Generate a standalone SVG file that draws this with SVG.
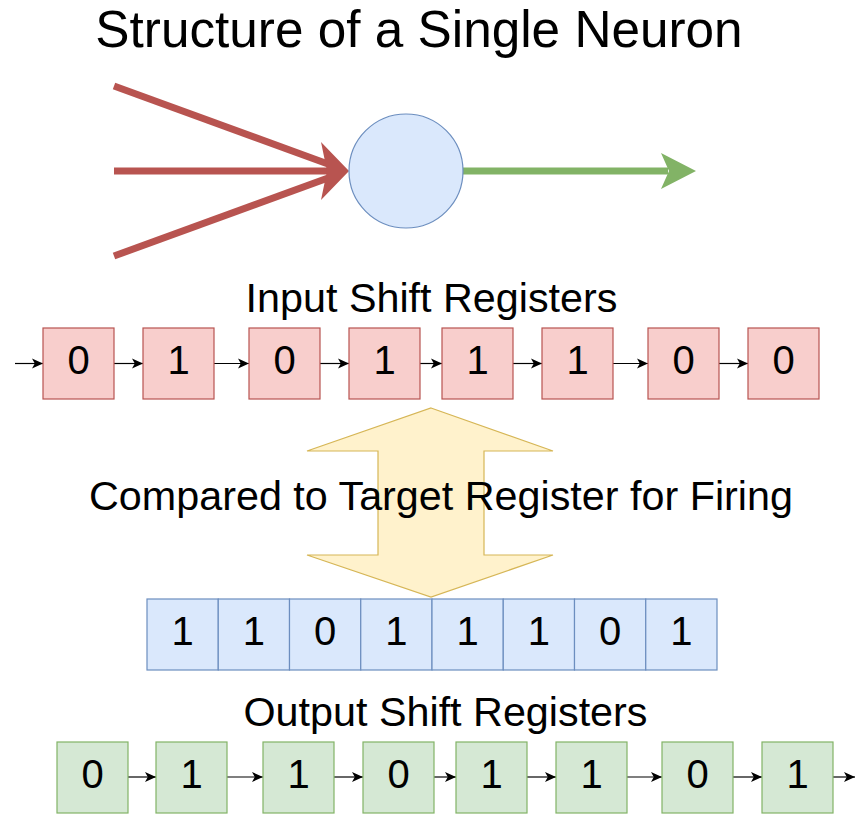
<svg xmlns="http://www.w3.org/2000/svg" width="868" height="828" viewBox="0 0 868 828">
<style>
text{font-family:"Liberation Sans",Arial,Helvetica,sans-serif;fill:#000;}
.lbl{font-size:41.3px;text-anchor:middle;}
.dig{font-size:40px;text-anchor:middle;}
.red{fill:#f8cecc;stroke:#b85450;stroke-width:1.2;}
.grn{fill:#d5e8d4;stroke:#82b366;stroke-width:1.2;}
.blu{fill:#dae8fc;stroke:#6c8ebf;stroke-width:1.2;}
.conn{stroke:#000;stroke-width:1.2;fill:none;marker-end:url(#ah);}
</style>
<defs>
<marker id="ah" markerWidth="11" markerHeight="11" viewBox="0 0 11 11" refX="11" refY="5.5" orient="auto" markerUnits="userSpaceOnUse">
<path d="M11,5.5 L0,0.5 L2.8,5.5 L0,10.5 Z" fill="#000"/>
</marker>
</defs>
<rect width="868" height="828" fill="#fff"/>
<text x="419" y="47" style="font-size:51.3px;text-anchor:middle">Structure of a Single Neuron</text>

<g id="inputs">
<g stroke="#b85450" stroke-width="7" fill="none">
<line x1="114" y1="86" x2="328" y2="164"/>
<line x1="114" y1="171" x2="328" y2="171"/>
<line x1="114" y1="256" x2="328" y2="178"/>
</g>
<polygon points="349,171 321,142 327,171 321,200" fill="#b85450"/>
</g>
<g id="output-axon">
<line x1="463" y1="171" x2="668" y2="171" stroke="#82b366" stroke-width="7"/>
<polygon points="696,171 661,153 669,171 661,189" fill="#82b366"/>
</g>
<g id="neuron">
<ellipse cx="406" cy="171" rx="57" ry="57" fill="#dae8fc" stroke="#6c8ebf" stroke-width="1.2"/>
</g>

<text class="lbl" x="431.5" y="312">Input Shift Registers</text>

<g id="connectors">
<line class="conn" x1="15" y1="363.5" x2="43" y2="363.5"/>
<line class="conn" x1="114" y1="363.5" x2="143" y2="363.5"/>
<line class="conn" x1="214" y1="363.5" x2="249" y2="363.5"/>
<line class="conn" x1="320" y1="363.5" x2="349" y2="363.5"/>
<line class="conn" x1="420" y1="363.5" x2="442" y2="363.5"/>
<line class="conn" x1="513" y1="363.5" x2="542" y2="363.5"/>
<line class="conn" x1="613" y1="363.5" x2="648" y2="363.5"/>
<line class="conn" x1="719" y1="363.5" x2="748" y2="363.5"/>
<line class="conn" x1="128" y1="777" x2="156" y2="777"/>
<line class="conn" x1="227" y1="777" x2="263" y2="777"/>
<line class="conn" x1="334" y1="777" x2="363" y2="777"/>
<line class="conn" x1="434" y1="777" x2="456" y2="777"/>
<line class="conn" x1="527" y1="777" x2="556" y2="777"/>
<line class="conn" x1="627" y1="777" x2="662" y2="777"/>
<line class="conn" x1="733" y1="777" x2="762" y2="777"/>
<line class="conn" x1="833" y1="777" x2="855" y2="777"/>
</g>

<g id="in0"><rect class="red" x="43" y="328" width="71" height="71"/><text class="dig" x="78.5" y="373.5">0</text></g>
<g id="in1"><rect class="red" x="143" y="328" width="71" height="71"/><text class="dig" x="178.5" y="373.5">1</text></g>
<g id="in2"><rect class="red" x="249" y="328" width="71" height="71"/><text class="dig" x="284.5" y="373.5">0</text></g>
<g id="in3"><rect class="red" x="349" y="328" width="71" height="71"/><text class="dig" x="384.5" y="373.5">1</text></g>
<g id="in4"><rect class="red" x="442" y="328" width="71" height="71"/><text class="dig" x="477.5" y="373.5">1</text></g>
<g id="in5"><rect class="red" x="542" y="328" width="71" height="71"/><text class="dig" x="577.5" y="373.5">1</text></g>
<g id="in6"><rect class="red" x="648" y="328" width="71" height="71"/><text class="dig" x="683.5" y="373.5">0</text></g>
<g id="in7"><rect class="red" x="748" y="328" width="71" height="71"/><text class="dig" x="783.5" y="373.5">0</text></g>

<g id="compare-arrow">
<polygon points="431,408 553,451 484,451 484,555 553,555 431,597 307,555 378,555 378,451 307,451" fill="#fff2cc" stroke="#d6b656" stroke-width="1.2"/>
</g>
<text class="lbl" x="441" y="510">Compared to Target Register for Firing</text>

<g id="target">
<g id="t0"><rect class="blu" x="147" y="599" width="71.25" height="71"/><text class="dig" x="182.6" y="645">1</text></g>
<g id="t1"><rect class="blu" x="218.25" y="599" width="71.25" height="71"/><text class="dig" x="253.9" y="645">1</text></g>
<g id="t2"><rect class="blu" x="289.5" y="599" width="71.25" height="71"/><text class="dig" x="325.1" y="645">0</text></g>
<g id="t3"><rect class="blu" x="360.75" y="599" width="71.25" height="71"/><text class="dig" x="396.4" y="645">1</text></g>
<g id="t4"><rect class="blu" x="432" y="599" width="71.25" height="71"/><text class="dig" x="467.6" y="645">1</text></g>
<g id="t5"><rect class="blu" x="503.25" y="599" width="71.25" height="71"/><text class="dig" x="538.9" y="645">1</text></g>
<g id="t6"><rect class="blu" x="574.5" y="599" width="71.25" height="71"/><text class="dig" x="610.1" y="645">0</text></g>
<g id="t7"><rect class="blu" x="645.75" y="599" width="71.25" height="71"/><text class="dig" x="681.4" y="645">1</text></g>
</g>

<text class="lbl" x="445.5" y="726">Output Shift Registers</text>

<g id="out0"><rect class="grn" x="57" y="742" width="71" height="71"/><text class="dig" x="92.5" y="787.5">0</text></g>
<g id="out1"><rect class="grn" x="156" y="742" width="71" height="71"/><text class="dig" x="191.5" y="787.5">1</text></g>
<g id="out2"><rect class="grn" x="263" y="742" width="71" height="71"/><text class="dig" x="298.5" y="787.5">1</text></g>
<g id="out3"><rect class="grn" x="363" y="742" width="71" height="71"/><text class="dig" x="398.5" y="787.5">0</text></g>
<g id="out4"><rect class="grn" x="456" y="742" width="71" height="71"/><text class="dig" x="491.5" y="787.5">1</text></g>
<g id="out5"><rect class="grn" x="556" y="742" width="71" height="71"/><text class="dig" x="591.5" y="787.5">1</text></g>
<g id="out6"><rect class="grn" x="662" y="742" width="71" height="71"/><text class="dig" x="697.5" y="787.5">0</text></g>
<g id="out7"><rect class="grn" x="762" y="742" width="71" height="71"/><text class="dig" x="797.5" y="787.5">1</text></g>
</svg>
